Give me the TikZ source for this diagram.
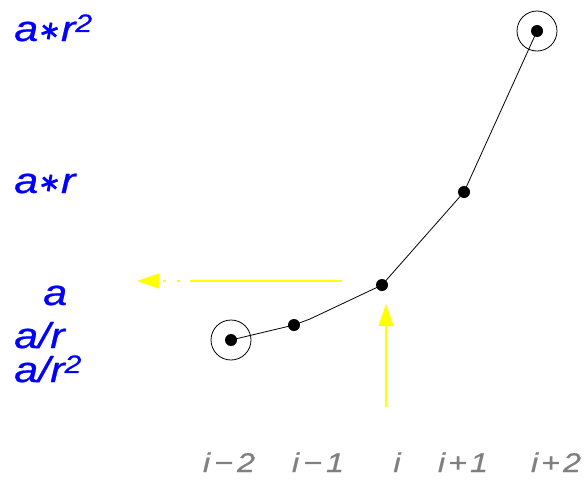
\documentclass[tikz,border=0pt]{standalone}
\usepackage{fontspec}
\setmainfont{Liberation Sans}
\newfontfamily\stretchsans[FakeStretch=1.2, FakeBold=0.6]{Liberation Sans}
\usepackage{xcolor}
\usetikzlibrary{arrows.meta,shapes.geometric}

\definecolor{labelblue}{RGB}{0,0,255}
\definecolor{idxgray}{RGB}{128,128,128}
\definecolor{markyellow}{RGB}{255,255,0}

\newcommand{\bigast}{\kern2pt\tikz[baseline=0pt, line width=2.8pt, labelblue]{%
  \foreach \ang in {80,20,140}
    \draw (0pt,10pt) ++(\ang:8.5pt) -- ++(\ang+180:17pt);}\kern2pt}
\newcommand{\idxminus}{\kern4pt−\kern4pt}
\newcommand{\idxplus}{\kern3pt+\kern3pt}

\tikzset{
  %% Sample points on the curve
  dotnode/.style={
    circle, fill=black, inner sep=0pt, minimum size=12pt},
  %% Rings round the end samples
  ringnode/.style={
    circle, draw=black, line width=0.8pt,
    inner sep=0pt, minimum size=40pt},
  %% Value labels on the left
  vallabel/.style={
    anchor=base west, inner sep=0pt,
    text=labelblue, font=\fontsize{36}{40}\selectfont\stretchsans\itshape},
  %% Index labels at the bottom
  idxlabel/.style={
    anchor=base, inner sep=0pt,
    text=idxgray, font=\fontsize{27}{30}\selectfont\stretchsans\itshape},
  %% Lines
  curve/.style={line width=0.8pt, black},
  yarrow/.style={-{Triangle[length=22pt, width=15pt]},
    line width=1.2pt, markyellow},
}

\begin{document}
\begin{tikzpicture}[x=1pt, y=-1pt]

  \useasboundingbox (0,0) rectangle (588,485);

  %% Samples
  \node[dotnode] (pm2) at (231,340) {};
  \node[dotnode] (pm1) at (294,325) {};
  \node[dotnode] (p0)  at (382,285) {};
  \node[dotnode] (pp1) at (464,192) {};
  \node[dotnode] (pp2) at (537,31)  {};
  \coordinate (bend) at (310,319);

  \node[ringnode] (rm2) at (pm2) {};
  \node[ringnode] (rp2) at (pp2) {};

  \draw[curve] (pm2.center) -- (pm1.center) -- (bend)
    -- (p0.center) -- (pp1.center) -- (pp2.center);

  %% Value labels
  \node[vallabel] (ar2) at (14,41)  {a\bigast r\textsuperscript{2}};
  \node[vallabel] (ar)  at (14,193) {a\bigast r};
  \node[vallabel] (a)   at (43,305) {a};
  \node[vallabel] (adr) at (14,348) {a/r};
  \node[vallabel] (adr2) at (14,382) {a/r\textsuperscript{2}};

  %% Index labels
  \node[idxlabel] (im2) at (229,472) {i\idxminus2};
  \node[idxlabel] (im1) at (318,472) {i\idxminus1};
  \node[idxlabel] (i0)  at (397,472) {i};
  \node[idxlabel] (ip1) at (463,472) {i\idxplus1};
  \node[idxlabel] (ip2) at (556,472) {i\idxplus2};

  %% Yellow pointers
  \coordinate (vstart) at (386,407);
  \coordinate (vend)   at (386,304);
  \draw[yarrow] (vstart) -- (vend);

  \coordinate (hstart) at (342,281);
  \coordinate (hmid)   at (190,281);
  \coordinate (hend)   at (137,281);
  \draw[line width=1.2pt, markyellow] (hstart) -- (hmid);
  \draw[yarrow, dash pattern=on 0pt off 10pt on 3pt off 11pt on 3pt off 20pt]
    (hmid) -- (hend);

\end{tikzpicture}
\end{document}
